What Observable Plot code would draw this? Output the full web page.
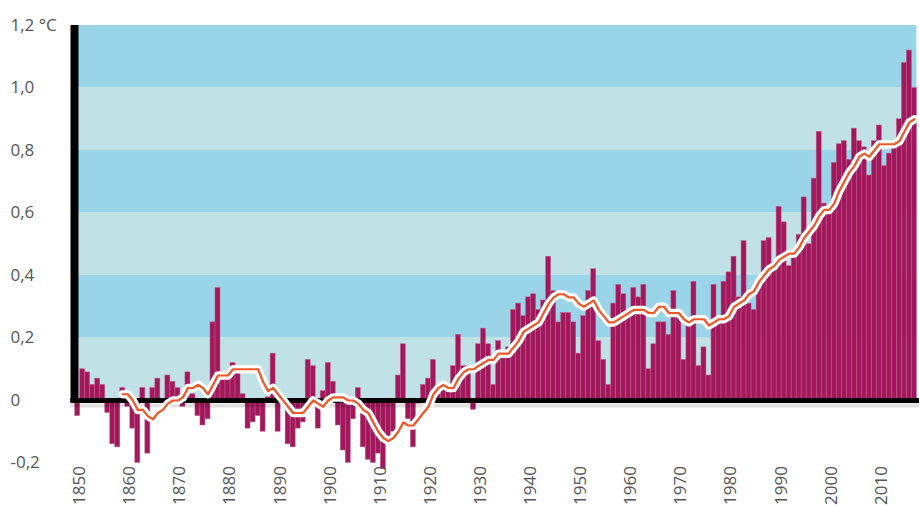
<!DOCTYPE html>
<html><head><meta charset="utf-8">
<script src="https://cdn.jsdelivr.net/npm/d3@7"></script>
<script src="https://cdn.jsdelivr.net/npm/@observablehq/plot@0.6"></script>
<style>
html,body{margin:0;padding:0;background:#fff;}
#chart{width:919px;height:506px;overflow:hidden;}
svg{display:block}
</style></head><body><div id="chart"></div>
<script>
// Annual temperature anomaly (°C), one value per year starting in 1850
const firstYear = 1850;
const anomalies = [
 -0.05, 0.10, 0.09, 0.05, 0.07, 0.05,-0.04,-0.14,-0.15, 0.04, // 1850
 -0.02,-0.09,-0.20, 0.04,-0.17, 0.04, 0.07, 0.00, 0.08, 0.06, // 1860
  0.04,-0.02, 0.09, 0.02,-0.05,-0.08,-0.06, 0.25, 0.36, 0.09, // 1870
  0.09, 0.12, 0.11, 0.02,-0.09,-0.07,-0.05,-0.10, 0.01, 0.15, // 1880
 -0.10,-0.01,-0.14,-0.15,-0.09,-0.07, 0.13, 0.11,-0.09, 0.03, // 1890
  0.12, 0.06,-0.08,-0.16,-0.20,-0.06, 0.04,-0.15,-0.19,-0.20, // 1900
 -0.17,-0.22,-0.12,-0.10, 0.08, 0.18,-0.06,-0.15,-0.01, 0.05, // 1910
  0.07, 0.13, 0.02, 0.04, 0.03, 0.11, 0.21, 0.11, 0.11,-0.03, // 1920
  0.18, 0.23, 0.18, 0.05, 0.19, 0.14, 0.17, 0.29, 0.31, 0.27, // 1930
  0.33, 0.34, 0.29, 0.32, 0.46, 0.35, 0.25, 0.28, 0.28, 0.25, // 1940
  0.15, 0.27, 0.35, 0.42, 0.19, 0.13, 0.05, 0.31, 0.37, 0.34, // 1950
  0.27, 0.36, 0.33, 0.37, 0.10, 0.18, 0.25, 0.25, 0.21, 0.35, // 1960
  0.29, 0.13, 0.26, 0.38, 0.11, 0.17, 0.08, 0.37, 0.26, 0.38, // 1970
  0.41, 0.46, 0.33, 0.51, 0.31, 0.29, 0.37, 0.51, 0.52, 0.44, // 1980
  0.62, 0.57, 0.43, 0.47, 0.53, 0.65, 0.50, 0.71, 0.86, 0.63, // 1990
  0.61, 0.76, 0.82, 0.83, 0.77, 0.87, 0.83, 0.81, 0.72, 0.83, // 2000
  0.88, 0.75, 0.79, 0.83, 0.90, 1.08, 1.12, 1.00              // 2010
];
// Smoothed curve (°C), one value per year starting in 1859
const smoothStart = 1859;
const smoothed = [
  0.02,                                                         // 1859
  0.02, 0.00,-0.03,-0.03,-0.05,-0.06,-0.04,-0.03,-0.01, 0.00, // 1860
  0.00, 0.01, 0.04, 0.04, 0.05, 0.04, 0.02, 0.05, 0.08, 0.08, // 1870
  0.08, 0.10, 0.10, 0.10, 0.10, 0.10, 0.10, 0.06, 0.03, 0.04, // 1880
  0.02, 0.00,-0.02,-0.04,-0.04,-0.04,-0.02, 0.00,-0.01,-0.02, // 1890
  0.00, 0.01, 0.01, 0.01, 0.00, 0.00,-0.01,-0.03,-0.04,-0.07, // 1900
 -0.10,-0.12,-0.13,-0.12,-0.10,-0.07,-0.08,-0.08,-0.06,-0.04, // 1910
 -0.02, 0.02, 0.04, 0.05, 0.04, 0.04, 0.07, 0.09, 0.10, 0.10, // 1920
  0.11, 0.12, 0.13, 0.13, 0.15, 0.15, 0.15, 0.17, 0.19, 0.22, // 1930
  0.23, 0.24, 0.25, 0.28, 0.31, 0.33, 0.34, 0.34, 0.33, 0.33, // 1940
  0.31, 0.30, 0.31, 0.32, 0.29, 0.27, 0.25, 0.25, 0.26, 0.27, // 1950
  0.28, 0.29, 0.29, 0.29, 0.28, 0.28, 0.30, 0.30, 0.28, 0.28, // 1960
  0.28, 0.26, 0.25, 0.26, 0.26, 0.26, 0.24, 0.25, 0.26, 0.26, // 1970
  0.27, 0.30, 0.31, 0.32, 0.34, 0.35, 0.38, 0.40, 0.42, 0.43, // 1980
  0.45, 0.46, 0.47, 0.47, 0.49, 0.52, 0.54, 0.56, 0.59, 0.61, // 1990
  0.61, 0.63, 0.67, 0.70, 0.73, 0.75, 0.78, 0.79, 0.78, 0.80, // 2000
  0.82, 0.82, 0.82, 0.82, 0.83, 0.86, 0.89, 0.90              // 2010
];
const yTicks = [-0.2, 0, 0.2, 0.4, 0.6, 0.8, 1.0, 1.2];
const yTickLabels = ["-0,2", "0", "0,2", "0,4", "0,6", "0,8", "1,0", "1,2 °C"];
const xTicks = [1850, 1860, 1870, 1880, 1890, 1900, 1910, 1920, 1930, 1940, 1950, 1960, 1970, 1980, 1990, 2000, 2010];
const bandLow  = [0.0, 0.2, 0.4, 0.6, 0.8, 1.0];
const bandHigh = [0.2, 0.4, 0.6, 0.8, 1.0, 1.2];
const bandColors = ["#c0e2e6", "#9ad4e8", "#c0e2e6", "#9ad4e8", "#c0e2e6", "#9ad4e8"];

const bars = anomalies.map((v, i) => ({year: firstYear + i, value: v}));
const curve = smoothed.map((v, i) => ({year: smoothStart + i, value: v}));
const bands = bandLow.map((lo, i) => ({lo, hi: bandHigh[i], fill: bandColors[i]}));

const x0 = firstYear - 0.5, x1 = firstYear + anomalies.length - 0.5;

const plot = Plot.plot({
  width: 919, height: 506,
  marginLeft: 74.7, marginRight: 2.6, marginTop: 25, marginBottom: 43.5,
  x: {domain: [x0, x1], label: null},
  y: {domain: [-0.2, 1.2], label: null},
  color: {type: "identity"},
  style: {fontFamily: "'Open Sans', sans-serif", fontSize: "17px", color: "#555", background: "#fff", overflow: "visible"},
  marks: [
    Plot.rect(bands, {x1: x0, x2: x1, y1: "lo", y2: "hi", fill: d => d.fill}),
    Plot.rect(bars, {x1: d => d.year - 0.5, x2: d => d.year + 0.5, y1: 0, y2: "value",
      fill: "#a3175c", stroke: "#c0628e", strokeWidth: 0.5}),
    Plot.ruleY([0], {x1: x0 - 0.9, x2: x1 + 1, stroke: "#000", strokeOpacity: 0.12, strokeWidth: 4, dy: 5}),
    Plot.ruleY([0], {x1: x0 - 0.9, x2: x1 + 1, stroke: "#000", strokeWidth: 5}),
    Plot.ruleX([x0], {y1: 0, y2: 1.2, stroke: "#000", strokeWidth: 8, dx: -0.7}),
    Plot.line(curve, {x: "year", y: "value", stroke: "#2a3a40", strokeOpacity: 0.35, strokeWidth: 11, dy: 5,
      strokeLinejoin: "round", ariaLabel: "shadow"}),
    Plot.line(curve, {x: "year", y: "value", stroke: "#fff", strokeWidth: 8.5, strokeLinejoin: "round", strokeLinecap: "round"}),
    Plot.line(curve, {x: "year", y: "value", stroke: "#ef5527", strokeWidth: 2.2, strokeLinejoin: "round"}),
    Plot.axisY(yTicks, {tickFormat: d => yTickLabels[yTicks.indexOf(d)], tickSize: 0, tickPadding: 0,
      textAnchor: "start", dx: 10 - 74.7, fill: "#555", label: null}),
    Plot.axisX(xTicks, {tickFormat: d => String(d), tickRotate: -90, tickSize: 0, tickPadding: 3, dx: 2, fill: "#555", label: null})
  ]
});

const svg = d3.select(plot);
const defs = svg.insert("defs", ":first-child");
defs.append("filter").attr("id", "soft").attr("x", "-10%").attr("y", "-30%").attr("width", "120%").attr("height", "160%")
  .append("feGaussianBlur").attr("stdDeviation", 4);
svg.selectAll('g[aria-label="shadow"]').attr("filter", "url(#soft)");

document.getElementById("chart").appendChild(plot);
</script>
</body></html>
